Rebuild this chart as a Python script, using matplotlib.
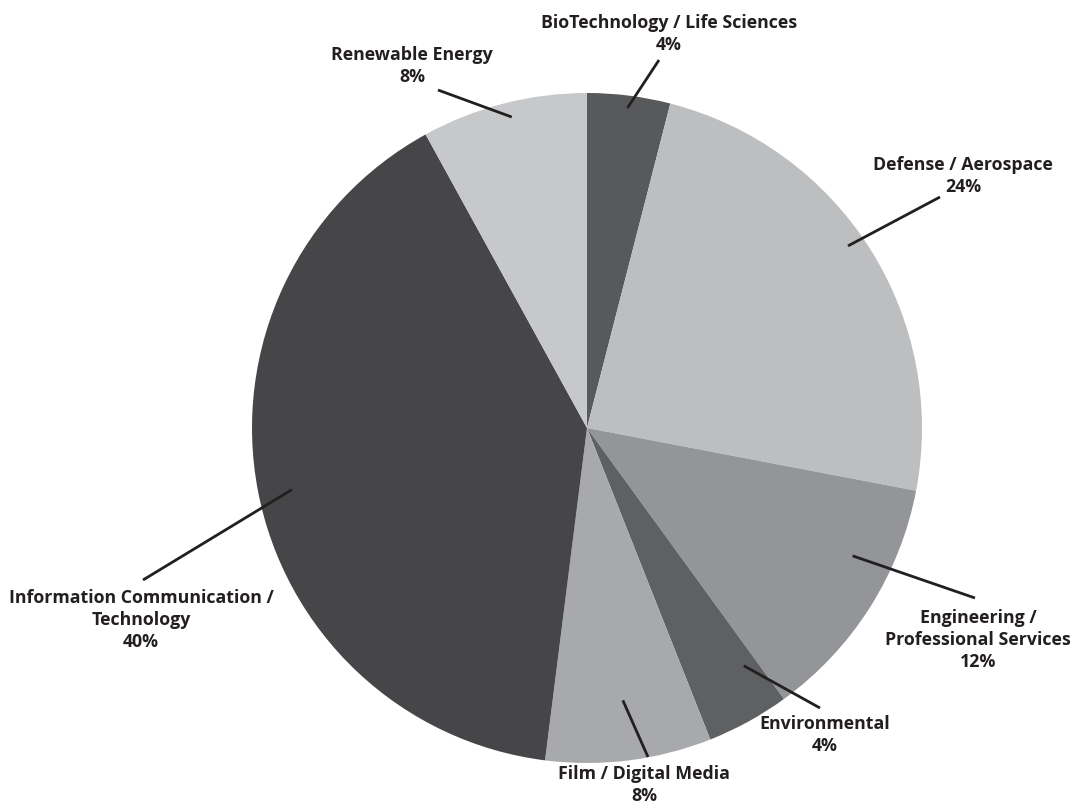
import numpy as np
import matplotlib.pyplot as plt

# slice data, clockwise from 12 o'clock
labels = ['BioTechnology / Life Sciences', 'Defense / Aerospace',
          'Engineering /\nProfessional Services', 'Environmental',
          'Film / Digital Media', 'Information Communication /\nTechnology',
          'Renewable Energy']
shares = [4, 24, 12, 4, 8, 40, 8]
colors = ['#58595b', '#bcbec0', '#939598', '#5f6062', '#a7a9ac', '#464648', '#c7c8ca']

# layout (pixel space, y measured from top): label anchor, line end,
# leader start as (angle offset from slice middle, radius fraction)
label_pos = [(669, 34), (963, 176), (978, 640), (825, 735), (644, 785), (141, 620), (412, 66)]
line_end = [(659, 60), (940, 197), (975, 598), (820, 708), (648, 757), (143, 580), (438, 90)]
inner = [(0, 0.963), (2.5, 0.95), (6.7, 0.88), (4.6, 0.85), (0.3, 0.82), (1.0, 0.90), (-0.8, 0.955)]

W, H = 1072, 806
cx, cy, R = 587, H - 428, 335

fig = plt.figure(figsize=(W / 100, H / 100), dpi=100)
ax = fig.add_axes([0, 0, 1, 1])

wedges, _ = ax.pie(shares, colors=colors, startangle=90, counterclock=False,
                   center=(cx, cy), radius=R, wedgeprops=dict(linewidth=0))
ax.set_xlim(0, W)
ax.set_ylim(0, H)
ax.set_aspect('equal')
ax.axis('off')

for w, lab, s, lp, le, (da, fr) in zip(wedges, labels, shares, label_pos, line_end, inner):
    mid = np.deg2rad((w.theta1 + w.theta2) / 2 + da)
    x0 = cx + fr * R * np.cos(mid)
    y0 = cy + fr * R * np.sin(mid)
    ax.plot([x0, le[0]], [y0, H - le[1]], color='#231f20', lw=2, solid_capstyle='butt')
    ax.text(lp[0], H - lp[1], f'{lab}\n{s}%', ha='center', va='center',
            fontsize=12.8, fontweight='bold', family='Open Sans', color='#231f20',
            linespacing=1.3)

fig.savefig('out.png', dpi=100)
